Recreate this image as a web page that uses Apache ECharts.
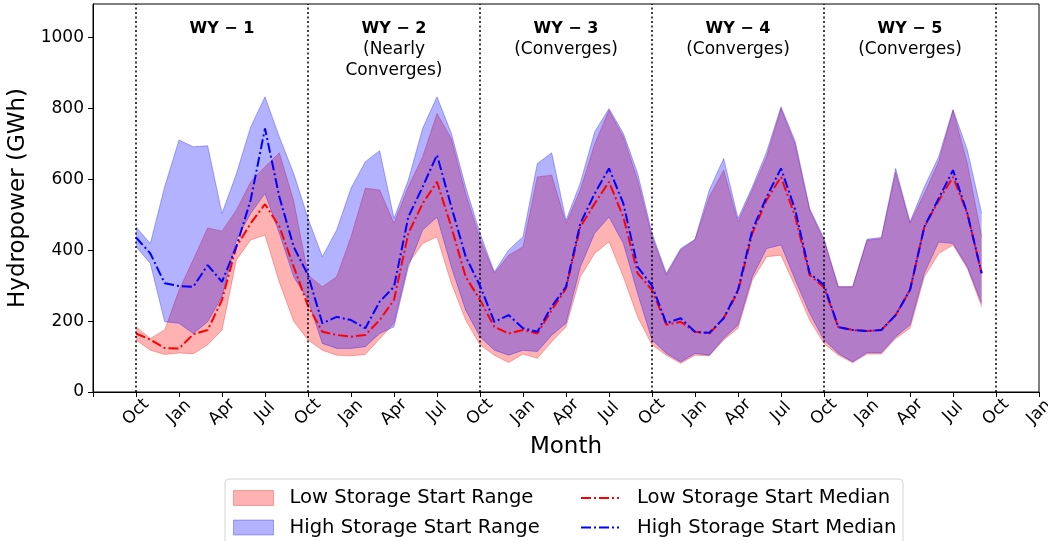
<!DOCTYPE html>
<html>
<head>
<meta charset="utf-8">
<script src="https://cdn.jsdelivr.net/npm/echarts@6/dist/echarts.min.js"></script>
<style>
html,body{margin:0;padding:0;background:#fff;}
#chart{width:1048px;height:541px;}
</style>
</head>
<body>
<div id="chart"></div>
<script>
// Month index 0 = Oct of WY-1, 59 = Sep of WY-5
const tickLabels = ['Oct', 'Jan', 'Apr', 'Jul'];
const wyCenters = [6, 18, 30, 42, 54];
const wyTitles = ['WY \u2212 1', 'WY \u2212 2', 'WY \u2212 3', 'WY \u2212 4', 'WY \u2212 5'];
const wySubs = ['', '(Nearly\nConverges)', '(Converges)', '(Converges)', '(Converges)'];
const wyBounds = [0, 12, 24, 36, 48, 60];

const lowMin = [
  147, 118, 106, 110, 108, 133, 175, 372, 429, 443, 310, 200,
  147, 118, 104, 102, 106, 150, 194, 363, 419, 438, 307, 203,
  133, 104, 83, 107, 95, 142, 184, 325, 391, 424, 325, 212,
  133, 104, 81, 104, 102, 147, 180, 316, 382, 386, 297, 203,
  137, 104, 83, 107, 107, 151, 180, 325, 391, 415, 349, 241
];
const lowMax = [
  184, 151, 175, 287, 374, 463, 454, 513, 593, 636, 675, 540,
  330, 297, 325, 438, 575, 570, 476, 579, 664, 786, 715, 560,
  432, 335, 386, 410, 607, 612, 476, 570, 700, 795, 720, 598,
  438, 330, 401, 429, 551, 626, 480, 570, 664, 800, 697, 513,
  428, 297, 297, 428, 433, 620, 476, 560, 650, 795, 645, 438
];
const highMin = [
  410, 363, 198, 194, 165, 198, 269, 429, 504, 560, 448, 325,
  260, 137, 123, 123, 128, 165, 184, 353, 457, 494, 353, 231,
  156, 118, 104, 118, 114, 160, 194, 353, 448, 494, 419, 278,
  147, 109, 85, 109, 104, 151, 189, 325, 405, 415, 316, 222,
  147, 109, 85, 111, 111, 156, 189, 335, 423, 419, 353, 250
];
const highMax = [
  466, 419, 579, 711, 692, 695, 504, 615, 748, 833, 720, 617,
  490, 382, 457, 575, 650, 681, 490, 598, 744, 833, 730, 579,
  448, 339, 401, 438, 645, 675, 485, 590, 734, 800, 730, 617,
  448, 335, 405, 431, 570, 659, 490, 579, 678, 805, 706, 518,
  433, 297, 297, 431, 436, 631, 480, 579, 664, 797, 683, 504
];
const lowMed = [
  165, 148, 124, 123, 163, 175, 260, 410, 476, 530, 467, 354,
  243, 170, 161, 156, 161, 203, 260, 448, 532, 593, 466, 325,
  260, 184, 165, 175, 165, 231, 292, 466, 532, 593, 494, 335,
  288, 190, 198, 170, 165, 208, 283, 448, 542, 607, 494, 330,
  295, 183, 175, 172, 175, 217, 288, 466, 540, 607, 504, 335
];
const highMed = [
  436, 391, 307, 299, 297, 358, 311, 410, 542, 744, 551, 410,
  330, 194, 212, 203, 180, 255, 297, 494, 579, 669, 523, 382,
  300, 198, 217, 180, 170, 241, 297, 476, 560, 631, 532, 353,
  300, 194, 208, 170, 167, 208, 288, 457, 551, 631, 513, 335,
  302, 183, 175, 172, 175, 217, 288, 466, 546, 626, 504, 335
];

// axis categories: months -3 .. 63
const axisStart = -3, axisEnd = 63;
const cats = [];
for (let m = axisStart; m <= axisEnd; m++) cats.push('M' + m);
const pad = arr => {
  const out = [];
  for (let m = axisStart; m <= axisEnd; m++) {
    out.push(m >= 0 && m < arr.length ? arr[m] : null);
  }
  return out;
};
const diff = (a, b) => a.map((v, i) => v - b[i]);

const FONT = 'DejaVu Sans';
const RED_A = 'rgba(255,0,0,0.3)';
const BLUE_A = 'rgba(0,0,255,0.3)';
const DASHDOT = [10, 3, 2, 3];

const chart = echarts.init(document.getElementById('chart'), null, {renderer: 'canvas'});
chart.setOption({
  animation: false,
  backgroundColor: '#fff',
  textStyle: {fontFamily: FONT},
  grid: {left: 93, right: 9, top: 4, bottom: 149, containLabel: false, outerBoundsMode: 'none',
         show: true, borderColor: '#000', borderWidth: 1, backgroundColor: 'transparent'},
  graphic: [{
    type: 'rect', z: 0,
    shape: {x: 225, y: 479, width: 678, height: 80, r: 4},
    style: {fill: '#fff', stroke: '#d4d4d4', lineWidth: 1}
  }],
  legend: [{
    z: 10, left: 233, top: 488, orient: 'vertical', padding: 0,
    itemWidth: 40, itemHeight: 15, itemGap: 9.5, selectedMode: false,
    textStyle: {fontFamily: FONT, fontSize: 19.6, lineHeight: 15, color: '#000', padding: [0, 0, 0, 11]},
    data: [
      {name: 'Low Storage Start Range', icon: 'rect', itemStyle: {color: RED_A, borderColor: RED_A, borderWidth: 1}},
      {name: 'High Storage Start Range', icon: 'rect', itemStyle: {color: BLUE_A, borderColor: BLUE_A, borderWidth: 1}}
    ]
  }, {
    z: 10, left: 580, top: 488, orient: 'vertical', padding: 0,
    itemWidth: 38, itemHeight: 15, itemGap: 9.5, selectedMode: false,
    textStyle: {fontFamily: FONT, fontSize: 19.6, lineHeight: 15, color: '#000', padding: [0, 0, 0, 13]},
    data: [
      {name: 'Low Storage Start Median', itemStyle: {opacity: 0}},
      {name: 'High Storage Start Median', itemStyle: {opacity: 0}}
    ]
  }],
  xAxis: {
    type: 'category', data: cats, boundaryGap: false,
    name: 'Month', nameLocation: 'middle', nameGap: 41,
    nameTextStyle: {fontFamily: FONT, fontSize: 23, color: '#000'},
    axisLine: {show: true, lineStyle: {color: '#000', width: 1}},
    axisTick: {show: true, interval: 2, length: 5, lineStyle: {color: '#000'}},
    axisLabel: {
      show: true, interval: 2, rotate: 45, margin: 20, align: 'center', verticalAlign: 'middle',
      fontFamily: FONT, fontSize: 17, color: '#000',
      formatter: (v, idx) => {
        const m = idx + axisStart;
        if (m < 0) return '';
        return tickLabels[(m / 3) % 4];
      }
    },
    splitLine: {show: false}
  },
  yAxis: {
    type: 'value', min: 0, max: 1095, interval: 200,
    name: 'Hydropower (GWh)', nameLocation: 'middle', nameGap: 53, nameRotate: 90,
    nameTextStyle: {fontFamily: FONT, fontSize: 23, color: '#000'},
    axisLine: {show: true, lineStyle: {color: '#000', width: 1}},
    axisTick: {show: true, length: 5, lineStyle: {color: '#000'}},
    axisLabel: {fontFamily: FONT, fontSize: 17, color: '#000', margin: 9, showMaxLabel: false,
                formatter: v => String(v)},
    splitLine: {show: false}
  },
  series: [
    {
      name: 'lowBase', type: 'line', stack: 'low', data: pad(lowMin),
      symbol: 'none', silent: true, z: 2,
      lineStyle: {color: RED_A, width: 1}
    },
    {
      name: 'Low Storage Start Range', type: 'line', stack: 'low', data: pad(diff(lowMax, lowMin)),
      symbol: 'none', silent: true, z: 2,
      lineStyle: {color: RED_A, width: 1},
      itemStyle: {color: RED_A},
      areaStyle: {color: RED_A, opacity: 1}
    },
    {
      name: 'highBase', type: 'line', stack: 'high', data: pad(highMin),
      symbol: 'none', silent: true, z: 3,
      lineStyle: {color: BLUE_A, width: 1}
    },
    {
      name: 'High Storage Start Range', type: 'line', stack: 'high', data: pad(diff(highMax, highMin)),
      symbol: 'none', silent: true, z: 3,
      lineStyle: {color: BLUE_A, width: 1},
      itemStyle: {color: BLUE_A},
      areaStyle: {color: BLUE_A, opacity: 1}
    },
    {
      name: 'Low Storage Start Median', type: 'line', data: pad(lowMed),
      symbol: 'none', silent: true, z: 4,
      itemStyle: {color: '#ff0000'},
      lineStyle: {color: '#ff0000', width: 2, type: DASHDOT},
      markLine: {
        silent: true, symbol: ['none', 'none'], label: {show: false},
        lineStyle: {color: '#000', type: [2, 2.5], width: 1.5},
        data: wyBounds.map(m => ({xAxis: 'M' + m}))
      }
    },
    {
      name: 'High Storage Start Median', type: 'line', data: pad(highMed),
      symbol: 'none', silent: true, z: 5,
      itemStyle: {color: '#0000ff'},
      lineStyle: {color: '#0000ff', width: 2, type: DASHDOT}
    },
    {
      name: 'wyTitle', type: 'scatter', symbolSize: 0, silent: true, z: 6,
      itemStyle: {opacity: 1},
      data: wyCenters.map(m => ['M' + m, 1025]),
      label: {
        show: true, position: 'inside', color: '#000', opacity: 1, textBorderWidth: 0,
        fontFamily: FONT, fontSize: 16, fontWeight: 'bold',
        formatter: p => wyTitles[p.dataIndex]
      }
    },
    {
      name: 'wySub', type: 'scatter', symbolSize: 0, silent: true, z: 6,
      itemStyle: {opacity: 1},
      data: wyCenters.map(m => ['M' + m, 995]),
      label: {
        show: true, position: 'bottom', distance: 0, color: '#000', opacity: 1, textBorderWidth: 0,
        fontFamily: FONT, fontSize: 17, lineHeight: 20.5, align: 'center',
        formatter: p => wySubs[p.dataIndex]
      }
    }
  ]
});
</script>
</body>
</html>
